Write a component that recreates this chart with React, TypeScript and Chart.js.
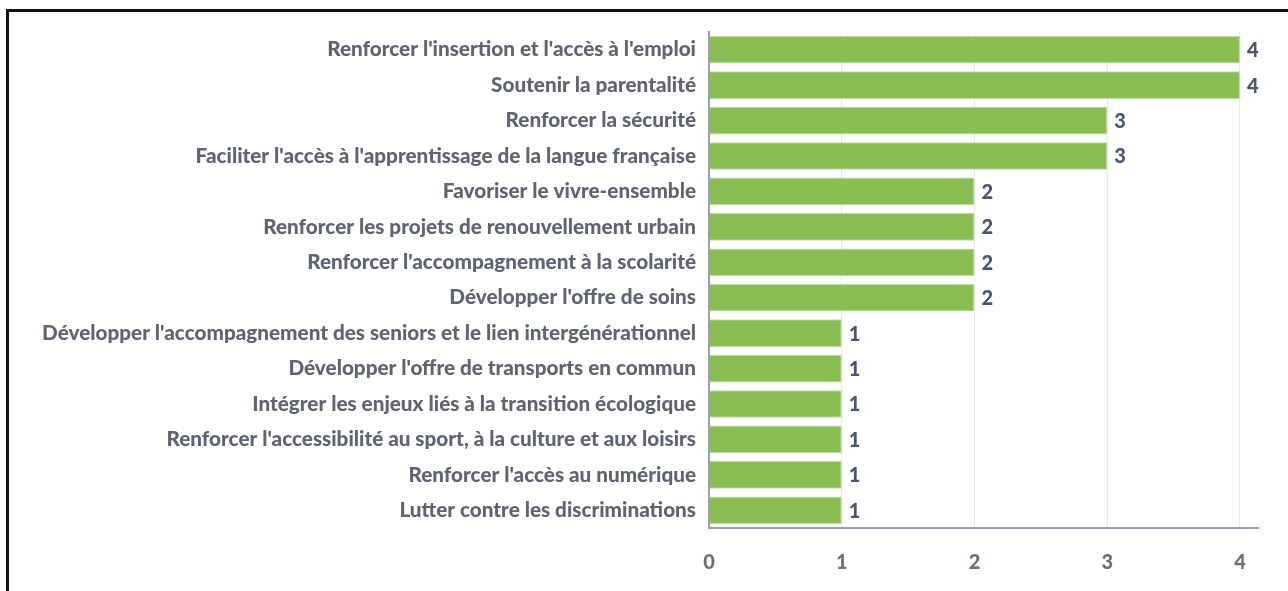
import React, { useEffect, useRef } from "react";
import { Chart, registerables } from "chart.js";

Chart.register(...registerables);

const categories = [
  "Renforcer l'insertion et l'accès à l'emploi",
  "Soutenir la parentalité",
  "Renforcer la sécurité",
  "Faciliter l'accès à l'apprentissage de la langue française",
  "Favoriser le vivre-ensemble",
  "Renforcer les projets de renouvellement urbain",
  "Renforcer l'accompagnement à la scolarité",
  "Développer l'offre de soins",
  "Développer l'accompagnement des seniors et le lien intergénérationnel",
  "Développer l'offre de transports en commun",
  "Intégrer les enjeux liés à la transition écologique",
  "Renforcer l'accessibilité au sport, à la culture et aux loisirs",
  "Renforcer l'accès au numérique",
  "Lutter contre les discriminations",
];

const values = [4, 4, 3, 3, 2, 2, 2, 2, 1, 1, 1, 1, 1, 1];

const xTicks = [0, 1, 2, 3, 4];

const FONT = "Lato, 'Noto Sans', sans-serif";

const valueLabels = {
  id: "valueLabels",
  afterDatasetsDraw(chart: any) {
    const ctx = chart.ctx;
    const meta = chart.getDatasetMeta(0);
    ctx.save();
    ctx.font = `900 20px ${FONT}`;
    ctx.fillStyle = "#4a5572";
    ctx.textAlign = "left";
    ctx.textBaseline = "middle";
    meta.data.forEach((bar: any, i: number) => {
      ctx.fillText(String(values[i]), bar.x + 7, bar.y + 1);
    });
    ctx.restore();
  },
};

export default function App() {
  const ref = useRef<HTMLCanvasElement | null>(null);

  useEffect(() => {
    if (!ref.current) return;
    const chart = new Chart(ref.current, {
      type: "bar",
      data: {
        labels: categories,
        datasets: [
          {
            data: values,
            backgroundColor: "#8bbd55",
            borderColor: "#bcdc9a",
            borderWidth: 1,
            barPercentage: 0.78,
            categoryPercentage: 1,
          },
        ],
      },
      options: {
        indexAxis: "y",
        animation: false,
        responsive: true,
        maintainAspectRatio: false,
        layout: { padding: { top: 32, right: 30, left: 0, bottom: 0 } },
        plugins: {
          legend: { display: false },
          tooltip: { enabled: false },
        },
        scales: {
          x: {
            min: 0,
            max: 4.136,
            afterFit: (s: any) => {
              s.height = 63;
            },
            afterBuildTicks: (s: any) => {
              s.ticks = xTicks.map((v) => ({ value: v }));
            },
            ticks: {
              stepSize: 1,
              includeBounds: false,
              padding: 23,
              color: "#6b7080",
              font: { family: FONT, size: 20, weight: "900" },
            },
            grid: {
              color: "#e6e8ec",
              lineWidth: 1,
              drawTicks: false,
            },
            border: { color: "#9a9fb3", width: 2 },
          },
          y: {
            afterFit: (s: any) => {
              s.width = 709;
            },
            ticks: {
              padding: 13,
              color: "#5f6473",
              font: { family: FONT, size: 20.7, weight: "900" },
            },
            grid: { display: false, drawTicks: false },
            border: { color: "#9a9fb3", width: 2 },
          },
        },
      },
      plugins: [valueLabels],
    });
    return () => chart.destroy();
  }, []);

  return (
    <div
      style={{
        position: "fixed",
        left: 0,
        top: 0,
        width: 1288,
        height: 591,
        background: "#ffffff",
        overflow: "hidden",
      }}
    >
      <div
        style={{
          position: "absolute",
          left: 6,
          top: 9,
          width: 1400,
          height: 800,
          borderLeft: "3px solid #111",
          borderTop: "3px solid #111",
        }}
      />
      <div style={{ position: "absolute", left: 0, top: 0, width: 1288, height: 591 }}>
        <canvas ref={ref} />
      </div>
    </div>
  );
}
